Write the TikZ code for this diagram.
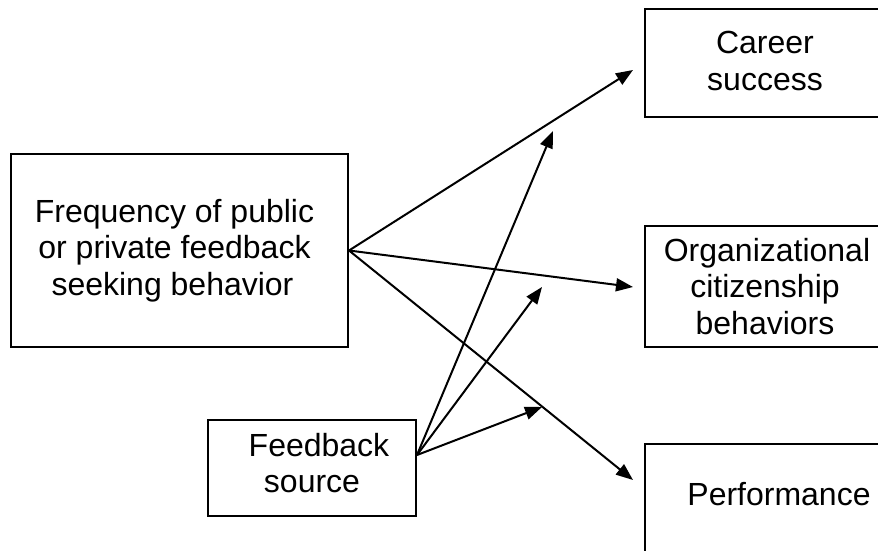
\documentclass[tikz,border=0pt]{standalone}
\usepackage{fontspec}
\setmainfont{Liberation Sans}
\usepackage{tikz}
\usetikzlibrary{arrows.meta}

\tikzset{
	varbox/.style={draw,line width=2pt,rectangle,align=center,inner sep=0pt,
		font=\fontsize{32}{36.5}\selectfont},
	link/.style={line width=2pt,-{Triangle[length=17pt,width=13pt]}}
}

\begin{document}
\begin{tikzpicture}[x=1pt,y=-1pt]
		\useasboundingbox (0,0) rectangle (878,551);
		\clip (0,0) rectangle (878,551);
		\node[varbox,minimum width=337pt,minimum height=193pt] (freq) at (179.5,250.5) {\hspace*{-10pt}Frequency of public\\\hspace*{-10pt}or private feedback\\\hspace*{-14pt}seeking behavior};
		\node[varbox,minimum width=208pt,minimum height=96pt] (source) at (312,468) {\hspace*{14pt}Feedback\\source\\[-26pt]};
		\node[varbox,minimum width=240pt,minimum height=108pt] (career) at (765,63) {Career\\success\\[-32pt]};
		\node[varbox,minimum width=240pt,minimum height=121pt] (ocb) at (765,286.5) {\hspace*{4pt}Organizational\\citizenship\\behaviors};
		\node[varbox,minimum width=240pt,minimum height=120pt] (perf) at (765,504) {\hspace*{28pt}Performance\\[-16pt]};
		\coordinate (tipcareer) at (633,70);
		\coordinate (tipocb) at (633,287);
		\coordinate (tipperf) at (633,480);
		\coordinate (modcareer) at (553,131);
		\coordinate (modocb) at (542,287);
		\coordinate (modperf) at (542,407);
		\draw[link] (freq.east) -- (tipcareer);
		\draw[link] (freq.east) -- (tipocb);
		\draw[link] (freq.east) -- (tipperf);
		\draw[link] ([yshift=13pt]source.east) -- (modcareer);
		\draw[link] ([yshift=13pt]source.east) -- (modocb);
		\draw[link] ([yshift=13pt]source.east) -- (modperf);
	\end{tikzpicture}
\end{document}
